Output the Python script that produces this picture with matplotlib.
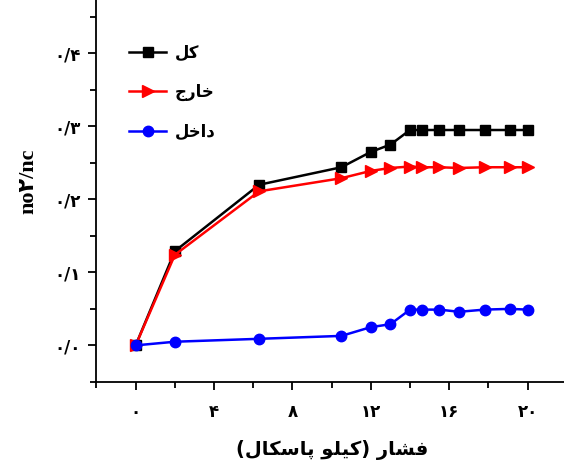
import matplotlib
matplotlib.use('Agg')
import matplotlib.pyplot as plt
from matplotlib.ticker import MultipleLocator, FixedLocator

# pressure (kPa)
pressure = [0, 2, 6.3, 10.5, 12, 13, 14, 14.6, 15.5, 16.5, 17.8, 19.1, 20]
total = [0.0, 0.129, 0.220, 0.244, 0.265, 0.275, 0.295, 0.295, 0.295, 0.295, 0.295, 0.295, 0.295]
outside = [0.0, 0.124, 0.211, 0.229, 0.239, 0.243, 0.245, 0.244, 0.244, 0.243, 0.244, 0.244, 0.244]
inside = [0.0, 0.005, 0.009, 0.013, 0.025, 0.029, 0.049, 0.049, 0.049, 0.046, 0.049, 0.050, 0.049]

xticks = [0, 4, 8, 12, 16, 20]
xtick_labels = ['۰', '۴', '۸', '۱۲', '۱۶', '۲۰']
yticks = [0.0, 0.1, 0.2, 0.3, 0.4]
ytick_labels = ['۰/۰', '۰/۱', '۰/۲', '۰/۳', '۰/۴']

# Persian text in presentation forms, visual (left-to-right) order
lbl_total = '\uFEDE\uFB90'                      # کل
lbl_outside = '\uFE9D\uFEAD\uFE8E\uFEA7'        # خارج
lbl_inside = '\uFEDE\uFEA7\uFE8D\uFEA9'         # داخل
xlabel = ('(' + '\uFEDD\uFE8E\uFB91\uFEB3\uFE8E\uFB58' + ' '
          + '\uFEEE\uFEE0\uFBFF\uFB90' + ') ' + '\uFEAD\uFE8E\uFEB8\uFED3')  # فشار (کیلو پاسکال)

plt.rcParams['font.family'] = ['DejaVu Sans']

fig = plt.figure(figsize=(5.64, 4.68), dpi=100)
ax = fig.add_axes([0.171, 0.184, 0.834, 0.858])

ax.plot(pressure, total, color='black', lw=1.8, marker='s', markersize=7, label=lbl_total)
ax.plot(pressure, outside, color='red', lw=1.8, marker='>', markersize=9, label=lbl_outside)
ax.plot(pressure, inside, color='blue', lw=1.8, marker='o', markersize=7.5, label=lbl_inside)

ax.set_xlim(-2, 22)
ax.set_ylim(-0.05, 0.5)

ax.spines['top'].set_visible(False)
ax.spines['right'].set_visible(False)
for s in ('left', 'bottom'):
    ax.spines[s].set_linewidth(1.3)

ax.xaxis.set_major_locator(FixedLocator(xticks))
ax.xaxis.set_minor_locator(MultipleLocator(2))
ax.yaxis.set_major_locator(FixedLocator(yticks))
ax.yaxis.set_minor_locator(MultipleLocator(0.05))
ax.set_xticklabels(xtick_labels, fontsize=12, fontweight='bold')
ax.set_yticklabels(ytick_labels, fontsize=12, fontweight='bold')
ax.tick_params(which='major', direction='out', length=6, width=1.3)
ax.tick_params(which='minor', direction='out', length=4, width=1.3)
ax.tick_params(axis='x', pad=9)
ax.tick_params(axis='y', pad=5)

ax.set_xlabel(xlabel, fontsize=14, fontweight='bold', labelpad=14)
ax.set_ylabel('no۲/nc', fontsize=16, fontweight='bold',
              family=['Liberation Serif', 'DejaVu Sans'], labelpad=12)

leg = ax.legend(loc='upper left', bbox_to_anchor=(0.056, 0.859), frameon=False,
                prop={'weight': 'bold', 'size': 12}, handlelength=2.2,
                handletextpad=0.5, labelspacing=1.3, borderaxespad=0)

fig.savefig('out.png', dpi=100)
